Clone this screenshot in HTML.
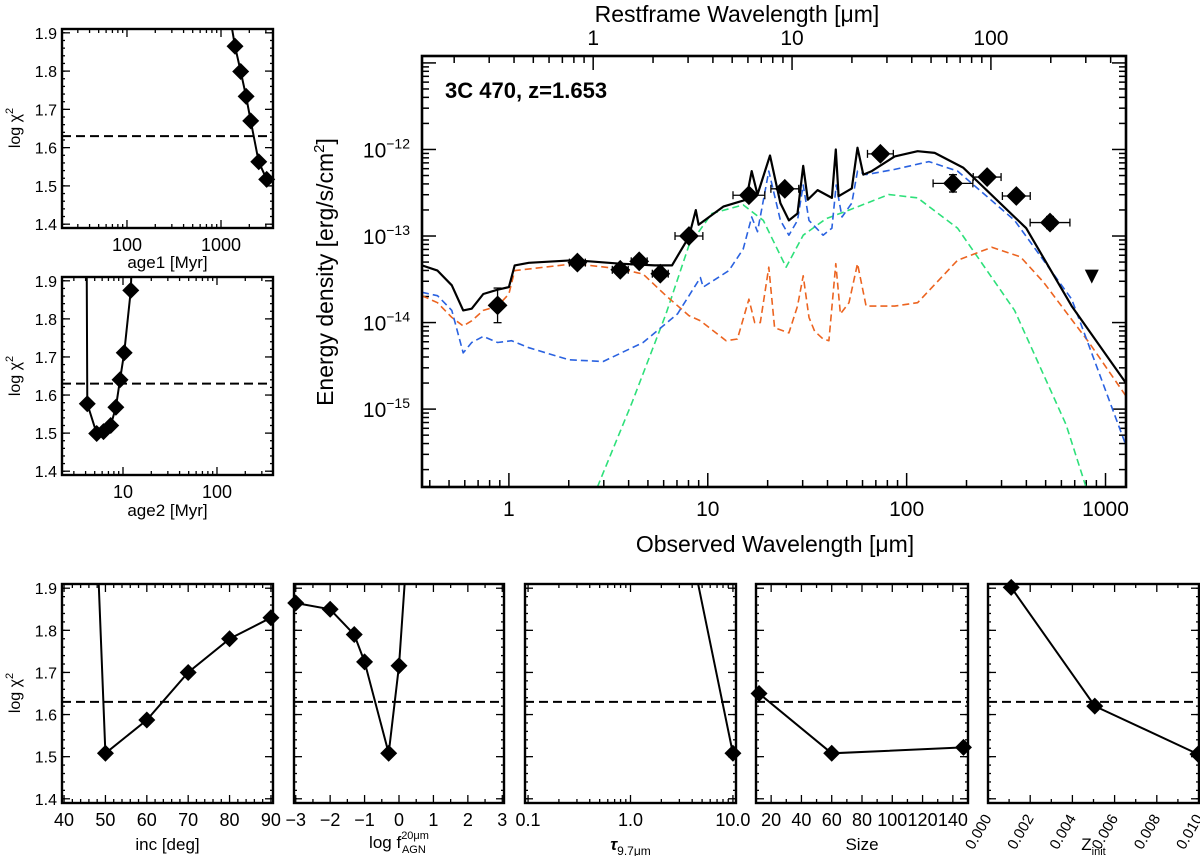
<!DOCTYPE html>
<html><head><meta charset="utf-8">
<style>
html,body{margin:0;padding:0;background:#fff;}
svg{display:block;font-family:"Liberation Sans",sans-serif;}
</style></head>
<body>
<svg id="fig" width="1200" height="856" viewBox="0 0 1200 856" xmlns="http://www.w3.org/2000/svg"></svg>
<script>
// ===== Main SED data (log10 wavelength [um], log10 energy density) =====
const obsLam = [0.877, 2.21, 3.63, 4.52, 5.77, 8.04, 16.1, 24.4, 73.8, 171, 254, 356, 526];
const obsFlux = [1.58e-14, 4.93e-14, 4.07e-14, 5.1e-14, 3.67e-14, 1.0e-13, 2.96e-13, 3.51e-13, 8.9e-13, 4.06e-13, 4.8e-13, 2.9e-13, 1.43e-13];
const obsXerrDex = [0, 0.04, 0.04, 0.04, 0.04, 0.07, 0.08, 0.07, 0.065, 0.1, 0.07, 0.07, 0.1];
const obsYerrDex = [0.2, 0.05, 0.06, 0.05, 0.05, 0.03, 0.05, 0.05, 0.05, 0.1, 0.04, 0.05, 0.07];
const ulLam = [853];
const ulFlux = [3.4e-14];
const totalLogX = [-0.437,-0.359,-0.287,-0.23,-0.187,-0.129,-0.057,0,0.029,0.10,0.33,0.56,0.733,0.82,0.905,0.94,0.954,1.078,1.193,1.221,1.25,1.313,1.365,1.408,1.451,1.48,1.503,1.552,1.624,1.644,1.658,1.724,1.753,1.782,1.825,1.94,2.055,2.141,2.284,2.601,2.83,3.103];
const totalLogY = [-13.34,-13.40,-13.57,-13.86,-13.84,-13.67,-13.62,-13.59,-13.34,-13.31,-13.28,-13.32,-13.34,-13.34,-13.01,-12.70,-12.87,-12.66,-12.58,-12.25,-12.52,-12.07,-12.62,-12.82,-12.74,-12.19,-12.58,-12.47,-12.56,-12.0,-12.54,-12.45,-11.98,-12.29,-12.25,-12.08,-12.02,-12.04,-12.21,-12.91,-13.81,-14.70];
const blueLogX = [-0.437,-0.359,-0.287,-0.23,-0.187,-0.129,-0.057,0.014,0.10,0.302,0.474,0.675,0.848,0.963,0.977,1.106,1.178,1.221,1.25,1.307,1.365,1.408,1.451,1.48,1.509,1.58,1.624,1.646,1.675,1.724,1.753,1.796,1.94,2.112,2.256,2.543,2.83,3.103];
const blueLogY = [-13.65,-13.69,-13.86,-14.35,-14.23,-14.16,-14.23,-14.21,-14.29,-14.43,-14.45,-14.23,-13.90,-13.48,-13.59,-13.40,-13.15,-12.78,-12.95,-12.25,-12.82,-12.99,-12.82,-12.41,-12.82,-12.99,-12.91,-12.41,-12.78,-12.62,-12.25,-12.29,-12.23,-12.14,-12.25,-12.82,-13.73,-15.42];
const greenLogX = [0.445,0.618,0.79,0.905,1.02,1.178,1.279,1.394,1.48,1.595,1.71,1.911,2.055,2.256,2.543,2.802,2.902];
const greenLogY = [-15.90,-14.93,-13.90,-13.11,-12.74,-12.64,-12.82,-13.36,-12.99,-12.80,-12.70,-12.52,-12.56,-12.91,-13.86,-15.18,-15.90];
const orangeLogX = [-0.437,-0.359,-0.287,-0.23,-0.187,-0.129,-0.057,0,0.029,0.33,0.56,0.675,0.79,0.905,0.963,1.092,1.149,1.207,1.236,1.264,1.307,1.336,1.408,1.451,1.48,1.509,1.537,1.58,1.609,1.644,1.667,1.71,1.753,1.796,1.94,2.055,2.256,2.428,2.572,2.687,2.917,3.103];
const orangeLogY = [-13.69,-13.77,-13.94,-14.04,-13.98,-13.86,-13.81,-13.67,-13.40,-13.32,-13.38,-13.44,-13.69,-13.92,-13.98,-14.21,-14.19,-13.73,-14.00,-14.0,-13.36,-14.06,-14.12,-13.81,-13.46,-13.94,-14.10,-14.19,-14.21,-13.32,-13.90,-13.77,-13.32,-13.81,-13.81,-13.77,-13.28,-13.13,-13.24,-13.53,-14.23,-14.85];
const mainXTickVals = [1, 10, 100, 1000];
const mainYTickExps = [-12, -13, -14, -15];
const restTickVals = [1, 10, 100];
const redshift = 1.653;

// ===== Chi-square panels =====
const age1X = [1410, 1620, 1850, 2070, 2520, 3060];
const age1Y = [1.865, 1.799, 1.734, 1.670, 1.563, 1.517];
const age2X = [4.17, 5.25, 6.2, 7.4, 8.4, 9.3, 10.3, 12.1];
const age2Y = [1.577, 1.499, 1.504, 1.52, 1.568, 1.64, 1.711, 1.875];
const incX = [50, 60, 70, 80, 90];
const incY = [1.508, 1.587, 1.70, 1.78, 1.83];
const fagnX = [-3, -2, -1.3, -1, -0.3, 0];
const fagnY = [1.865, 1.85, 1.79, 1.725, 1.508, 1.716];
const tauX = [10];
const tauY = [1.508];
const sizeX = [12, 60, 147];
const sizeY = [1.65, 1.508, 1.522];
const zX = [0.0011, 0.00506, 0.00995];
const zY = [1.902, 1.62, 1.506];
const chiThreshold = [1.63];
const chiTicks = [1.4, 1.5, 1.6, 1.7, 1.8, 1.9];

const NS = "http://www.w3.org/2000/svg";
const svg = document.getElementById('fig');
function mk(tag, attrs, parent) {
  const e = document.createElementNS(NS, tag);
  for (const k in attrs) e.setAttribute(k, attrs[k]);
  (parent || svg).appendChild(e);
  return e;
}
function txt(s, x, y, size, parent, anchor, extra) {
  const t = mk('text', Object.assign({x: x, y: y, 'font-size': size, 'text-anchor': anchor || 'middle', fill: '#000'}, extra || {}), parent);
  t.textContent = s;
  return t;
}
function diamond(cx, cy, r, parent) {
  return mk('polygon', {points: `${cx},${cy-r} ${cx+r},${cy} ${cx},${cy+r} ${cx-r},${cy}`, fill: '#000'}, parent);
}

// ===== Main plot =====
const M = {x0: 422, x1: 1126, y0: 56, y1: 487, lx0: -0.437, lx1: 3.103, ly0: -15.9, ly1: -10.92};
const mx = l => M.x0 + (l - M.lx0) / (M.lx1 - M.lx0) * (M.x1 - M.x0);
const my = l => M.y1 - (l - M.ly0) / (M.ly1 - M.ly0) * (M.y1 - M.y0);
const main = mk('g', {});


const defs = mk('defs', {});
const cp = mk('clipPath', {id: 'mainclip'}, defs);
mk('rect', {x: M.x0, y: M.y0, width: M.x1 - M.x0, height: M.y1 - M.y0}, cp);

const tickG = mk('g', {stroke: '#000', 'stroke-width': 1.5}, main);


for (let d = -1; d <= 3; d++) {
  for (let m = 1; m <= 9; m++) {
    const l = d + Math.log10(m);
    if (l < M.lx0 || l > M.lx1) continue;
    const x = mx(l), len = m === 1 ? 14 : 7;
    mk('line', {x1: x, x2: x, y1: M.y1, y2: M.y1 - len}, tickG);
  }
}
for (let d = -1; d <= 3; d++) {
  for (let m = 1; m <= 9; m++) {
    const lr = d + Math.log10(m);
    const l = lr + Math.log10(1 + redshift);
    if (l < M.lx0 || l > M.lx1) continue;
    const x = mx(l), len = m === 1 ? 14 : 7;
    mk('line', {x1: x, x2: x, y1: M.y0, y2: M.y0 + len}, tickG);
  }
}
for (let d = -16; d <= -11; d++) {
  for (let m = 1; m <= 9; m++) {
    const l = d + Math.log10(m);
    if (l < M.ly0 || l > M.ly1) continue;
    const y = my(l), len = m === 1 ? 14 : 7;
    mk('line', {x1: M.x0, x2: M.x0 + len, y1: y, y2: y}, tickG);
    mk('line', {x1: M.x1, x2: M.x1 - len, y1: y, y2: y}, tickG);
  }
}
mainXTickVals.forEach(v => {
  const t = txt(String(v), mx(Math.log10(v)), 516, 21, main);
  
  
});
restTickVals.forEach(v => {
  const t = txt(String(v), mx(Math.log10(v) + Math.log10(1 + redshift)), 45, 21, main);
  
  
});
mainYTickExps.forEach(e => {
  const y = my(e);
  const t = mk('text', {x: 410, y: y + 8, 'font-size': 21, 'text-anchor': 'end'}, main);
  
  
  const a = mk('tspan', {}, t); a.textContent = '10';
  const b = mk('tspan', {dy: -9, 'font-size': 14}, t); b.textContent = '\u2212' + Math.abs(e);
});
const xt = txt('Observed Wavelength [\u03bcm]', 775, 552, 23, main);


const tt = txt('Restframe Wavelength [\u03bcm]', 737, 22, 23, main);


const yt = mk('text', {x: 0, y: 0, 'font-size': 23, 'text-anchor': 'middle', transform: 'translate(333,272) rotate(-90)'}, main);


yt.appendChild(document.createTextNode('Energy density [erg/s/cm'));
const sup = mk('tspan', {dy: -9, 'font-size': 15}, yt); sup.textContent = '2';
const cl = mk('tspan', {dy: 9}, yt); cl.textContent = ']';
const title = txt('3C 470, z=1.653', 445, 98, 22, main, 'start', {'font-weight': 'bold'});



const curveG = mk('g', {'clip-path': 'url(#mainclip)', fill: 'none'}, main);
function curve(xs, ys, color, dash, w) {
  const pts = xs.map((x, i) => mx(x).toFixed(1) + ',' + my(ys[i]).toFixed(1)).join(' ');
  const a = {points: pts, stroke: color, 'stroke-width': w, fill: 'none', 'stroke-linejoin': 'round'};
  if (dash) a['stroke-dasharray'] = dash;
  return mk('polyline', a, curveG);
}
const cg = curve(greenLogX, greenLogY, '#2ee07a', '7,4', 1.6);


const co = curve(orangeLogX, orangeLogY, '#ec6420', '7,4', 1.6);


const cb = curve(blueLogX, blueLogY, '#2a62e0', '7,4', 1.6);


const ck = curve(totalLogX, totalLogY, '#000', null, 2.2);



obsLam.forEach((lam, i) => {
  const lx = Math.log10(lam), ly = Math.log10(obsFlux[i]);
  const g = mk('g', {stroke: '#000', 'stroke-width': 1.3}, main);
  
  
  const x = mx(lx), y = my(ly);
  if (obsXerrDex[i] > 0) {
    const xa = mx(lx - obsXerrDex[i]), xb = mx(lx + obsXerrDex[i]);
    mk('line', {x1: xa, x2: xb, y1: y, y2: y}, g);
    mk('line', {x1: xa, x2: xa, y1: y - 4, y2: y + 4}, g);
    mk('line', {x1: xb, x2: xb, y1: y - 4, y2: y + 4}, g);
  }
  const ya = my(ly + obsYerrDex[i]), yb = my(ly - obsYerrDex[i]);
  mk('line', {x1: x, x2: x, y1: ya, y2: yb}, g);
  mk('line', {x1: x - 4, x2: x + 4, y1: ya, y2: ya}, g);
  mk('line', {x1: x - 4, x2: x + 4, y1: yb, y2: yb}, g);
  diamond(x, y, 9, g);
});
ulLam.forEach((lam, i) => {
  const x = mx(Math.log10(lam)), y = my(Math.log10(ulFlux[i]));
  const p = mk('polygon', {points: `${x-7},${y-7} ${x+7},${y-7} ${x},${y+7}`, fill: '#000'}, main);
  
  
});
mk('rect', {x: M.x0, y: M.y0, width: M.x1 - M.x0, height: M.y1 - M.y0, fill: 'none', stroke: '#000', 'stroke-width': 2.6}, main);

// ===== Chi-square panels =====
let clipN = 0;
function chiPanel(name, box, xmap, xTicks, xLabels, xMinor, xs, ys, lead, trail, yLabels, xTitleFn, labelY, titleY, rotate) {
  const g = mk('g', {});
  
  
  const px = v => box.x0 + xmap(v) * (box.x1 - box.x0);
  const py = v => box.y1 - (v - 1.39) / (1.91 - 1.39) * (box.y1 - box.y0);
  const id = 'pc' + (clipN++);
  const c = mk('clipPath', {id: id}, defs);
  mk('rect', {x: box.x0, y: box.y0, width: box.x1 - box.x0, height: box.y1 - box.y0}, c);
  const tg = mk('g', {stroke: '#000', 'stroke-width': 1.3}, g);
  chiTicks.forEach(v => {
    const y = py(v);
    mk('line', {x1: box.x0, x2: box.x0 + 8, y1: y, y2: y}, tg);
    mk('line', {x1: box.x1, x2: box.x1 - 8, y1: y, y2: y}, tg);
    if (yLabels) txt(v.toFixed(1), box.x0 - 5, y + 6, 16, g, 'end');
  });
  for (let v = 1.40; v < 1.91; v += 0.02) {
    const y = py(v);
    mk('line', {x1: box.x0, x2: box.x0 + 3, y1: y, y2: y}, tg);
    mk('line', {x1: box.x1, x2: box.x1 - 3, y1: y, y2: y}, tg);
  }
  xMinor.forEach(v => {
    const x = px(v);
    mk('line', {x1: x, x2: x, y1: box.y1, y2: box.y1 - 4}, tg);
    mk('line', {x1: x, x2: x, y1: box.y0, y2: box.y0 + 4}, tg);
  });
  xTicks.forEach((v, i) => {
    const x = px(v);
    mk('line', {x1: x, x2: x, y1: box.y1, y2: box.y1 - 8}, tg);
    mk('line', {x1: x, x2: x, y1: box.y0, y2: box.y0 + 8}, tg);
    if (rotate) {
      txt(xLabels[i], 0, 0, 15, g, 'end', {transform: `translate(${x + 4},${labelY - 8}) rotate(-60)`});
    } else {
      txt(xLabels[i], x, labelY, 18, g);
    }
  });
  const dl = mk('line', {x1: box.x0, x2: box.x1, y1: py(chiThreshold[0]), y2: py(chiThreshold[0]), stroke: '#000', 'stroke-width': 2, 'stroke-dasharray': '9,5'}, g);
  
  
  const lx = [], ly = [];
  if (lead) { lx.push(lead[0]); ly.push(lead[1]); }
  xs.forEach((v, i) => { lx.push(v); ly.push(ys[i]); });
  if (trail) { lx.push(trail[0]); ly.push(trail[1]); }
  const dg = mk('g', {'clip-path': `url(#${id})`}, g);
  const line = mk('polyline', {points: lx.map((v, i) => px(v).toFixed(1) + ',' + py(ly[i]).toFixed(1)).join(' '), fill: 'none', stroke: '#000', 'stroke-width': 2}, dg);
  
  
  xs.forEach((v, i) => {
    const d = mk('polygon', {points: `${px(v)},${py(ys[i]) - 8.5} ${px(v) + 8.5},${py(ys[i])} ${px(v)},${py(ys[i]) + 8.5} ${px(v) - 8.5},${py(ys[i])}`, fill: '#000'}, g);
    
    
  });
  mk('rect', {x: box.x0, y: box.y0, width: box.x1 - box.x0, height: box.y1 - box.y0, fill: 'none', stroke: '#000', 'stroke-width': 2.4}, g);
  const xtg = mk('text', {x: (box.x0 + box.x1) / 2, y: titleY, 'font-size': 17, 'text-anchor': 'middle'}, g);
  
  
  xTitleFn(xtg);
  return g;
}
function logMinor(a, b) { const r = []; for (let d = a; d <= b; d++) for (let m = 2; m <= 9; m++) r.push(Math.pow(10, d) * m); return r; }
function logMap(lo, hi) { return v => (Math.log10(v) - lo) / (hi - lo); }
function linMap(lo, hi) { return v => (v - lo) / (hi - lo); }
function simpleTitle(s) { return t => { t.textContent = s; }; }
function yTitle(x, y) {
  const t = mk('text', {x: 0, y: 0, 'font-size': 16, 'text-anchor': 'middle', transform: `translate(${x},${y}) rotate(-90)`});
  
  
  t.appendChild(document.createTextNode('log \u03c7'));
  const s = mk('tspan', {dy: -7, 'font-size': 11}, t); s.textContent = '2';
}

const a1Map = logMap(1.309, 3.553);
chiPanel('age1-panel', {x0: 62, x1: 273, y0: 29, y1: 228}, a1Map, [100, 1000], ['100', '1000'], logMinor(1, 3).filter(v => a1Map(v) > 0 && a1Map(v) < 1),
  age1X, age1Y, [1230, 1.95], null, true, simpleTitle('age1  [Myr]'), 251, 268);
yTitle(20, 128);
const a2Map = logMap(0.351, 2.596);
chiPanel('age2-panel', {x0: 62, x1: 273, y0: 277, y1: 475}, a2Map, [10, 100], ['10', '100'], logMinor(0, 2).filter(v => a2Map(v) > 0 && a2Map(v) < 1),
  age2X, age2Y, [4.1, 2.0], [12.6, 2.0], true, simpleTitle('age2  [Myr]'), 498, 516);
yTitle(20, 376);
chiPanel('inc-panel', {x0: 62, x1: 273, y0: 584, y1: 803}, linMap(39.5, 90.5), [40, 50, 60, 70, 80, 90], ['40', '50', '60', '70', '80', '90'], [42, 44, 46, 48, 52, 54, 56, 58, 62, 64, 66, 68, 72, 74, 76, 78, 82, 84, 86, 88],
  incX, incY, [48.3, 1.93], null, true, simpleTitle('inc [deg]'), 826, 850);
yTitle(20, 693);
chiPanel('fagn-panel', {x0: 294, x1: 504, y0: 584, y1: 803}, linMap(-3.05, 3.05), [-3, -2, -1, 0, 1, 2, 3], ['\u22123', '\u22122', '\u22121', '0', '1', '2', '3'], [-2.5, -1.5, -0.5, 0.5, 1.5, 2.5],
  fagnX, fagnY, null, [0.18, 1.93], false, t => {
    t.appendChild(document.createTextNode('log f'));
    const s = mk('tspan', {dy: -9, 'font-size': 11}, t); s.textContent = '20\u03bcm';
    const b = mk('tspan', {dx: -27, dy: 14, 'font-size': 11}, t); b.textContent = 'AGN';
  }, 826, 848);
const tMap = logMap(-1.03, 1.03);
chiPanel('tau-panel', {x0: 525, x1: 736, y0: 584, y1: 803}, tMap, [0.1, 1, 10], ['0.1', '1.0', '10.0'], logMinor(-1, 0),
  tauX, tauY, [4.4, 1.93], null, false, t => {
    const a = mk('tspan', {'font-style': 'italic', 'font-weight': 'bold'}, t); a.textContent = '\u03c4';
    const b = mk('tspan', {dy: 5, 'font-size': 12}, t); b.textContent = '9.7\u03bcm';
  }, 826, 850);
chiPanel('size-panel', {x0: 756, x1: 968, y0: 584, y1: 803}, linMap(10, 150), [20, 40, 60, 80, 100, 120, 140], ['20', '40', '60', '80', '100', '120', '140'], [30, 50, 70, 90, 110, 130],
  sizeX, sizeY, null, null, false, simpleTitle('Size'), 826, 850);
chiPanel('zinit-panel', {x0: 988, x1: 1199, y0: 584, y1: 803}, linMap(0, 0.01), [0, 0.002, 0.004, 0.006, 0.008, 0.010], ['0.000', '0.002', '0.004', '0.006', '0.008', '0.010'], [0.001, 0.003, 0.005, 0.007, 0.009],
  zX, zY, null, null, false, t => {
    t.appendChild(document.createTextNode('Z'));
    const b = mk('tspan', {dy: 5, 'font-size': 11}, t); b.textContent = 'init';
  }, 826, 850, true);
</script>
</body></html>
